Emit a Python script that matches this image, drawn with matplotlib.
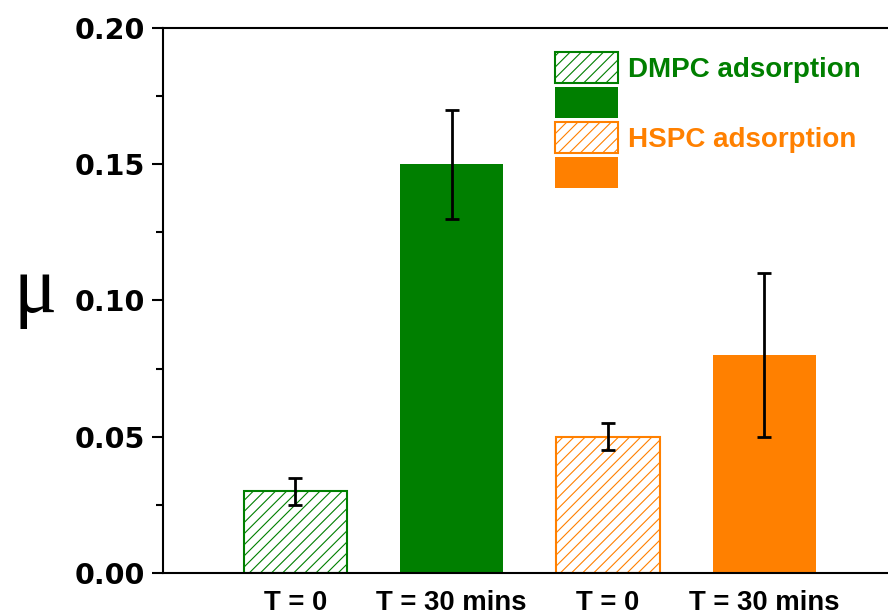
import matplotlib
matplotlib.use("Agg")
import matplotlib.pyplot as plt
from matplotlib.patches import Patch

# data
labels = ["T = 0", "T = 30 mins", "T = 0", "T = 30 mins"]
mu = [0.03, 0.15, 0.05, 0.08]
mu_err = [0.005, 0.02, 0.005, 0.03]
green = "#007f00"
orange = "#ff8000"
colors = [green, green, orange, orange]
hatched = [True, False, True, False]
legend_labels = ["DMPC adsorption", "", "HSPC adsorption", ""]

plt.rcParams["hatch.linewidth"] = 0.8

fig = plt.figure(figsize=(8.88, 6.15), dpi=100)
ax = fig.add_axes([0.1836, 0.0683, 0.8164, 0.8862])

x = [1, 2, 3, 4]
for xi, v, e, c, h in zip(x, mu, mu_err, colors, hatched):
    if h:
        ax.bar(xi, v, width=0.66, facecolor="white", edgecolor=c,
               hatch="///", linewidth=1.5, zorder=2)
    else:
        ax.bar(xi, v, width=0.66, color=c, edgecolor=c, linewidth=0, zorder=2)
    ax.errorbar(xi, v, yerr=e, fmt="none", ecolor="black", elinewidth=2,
                capsize=5, capthick=2, zorder=3)

ax.set_xlim(0.154, 4.79)
ax.set_ylim(0, 0.20)
ax.set_yticks([0, 0.05, 0.10, 0.15, 0.20])
ax.set_yticks([0.025, 0.075, 0.125, 0.175], minor=True)
ax.set_yticklabels(["0.00", "0.05", "0.10", "0.15", "0.20"],
                   fontsize=20.5, fontweight="bold", family="DejaVu Sans")
ax.set_xticks(x)
ax.set_xticklabels(labels, fontsize=19.8, fontweight="bold",
                   family=["Liberation Sans", "DejaVu Sans"])
ax.tick_params(axis="x", length=0, pad=12)
ax.tick_params(axis="y", which="major", length=8, width=1.5, direction="out", pad=5)
ax.tick_params(axis="y", which="minor", length=5, width=1.5, direction="out")

for s in ["left", "bottom", "top"]:
    ax.spines[s].set_linewidth(1.5)
ax.spines["right"].set_visible(False)

# y axis symbol
fig.text(35 / 888, 1 - 312 / 615, "μ", fontsize=58, ha="center", va="baseline",
         family=["Liberation Serif", "DejaVu Serif"])

handles = []
for c, h in zip(colors, hatched):
    if h:
        handles.append(Patch(facecolor="white", edgecolor=c, hatch="///", linewidth=1.5))
    else:
        handles.append(Patch(facecolor=c, edgecolor=c, linewidth=0))
leg = ax.legend(handles, legend_labels, loc="upper left", bbox_to_anchor=(0.5407, 0.956),
                frameon=False, handlelength=2.27, handleheight=1.34, labelspacing=0.15,
                handletextpad=0.36, borderpad=0, borderaxespad=0,
                prop={"size": 20, "weight": "bold", "family": ["Liberation Sans", "DejaVu Sans"]},
                labelcolor=colors)

fig.savefig("out.png", dpi=100)
